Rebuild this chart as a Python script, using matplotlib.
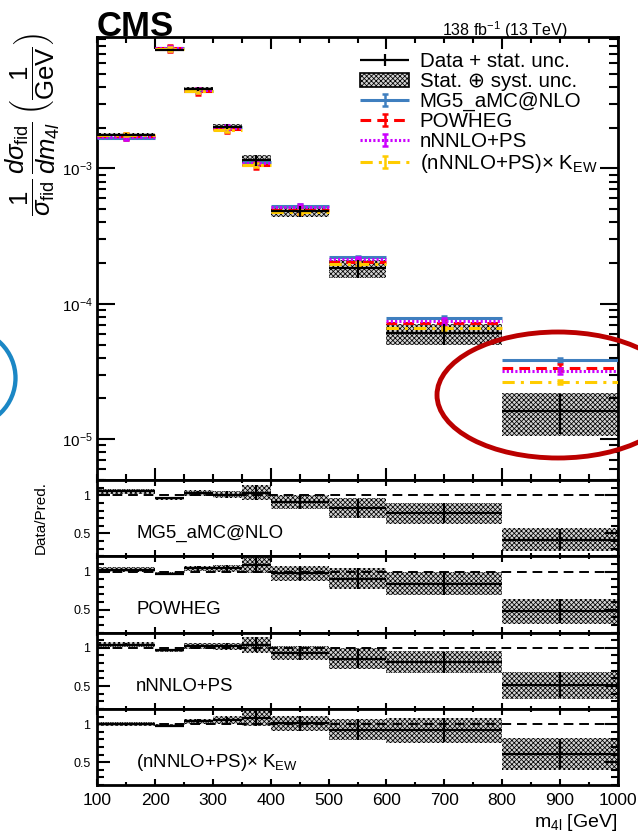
import matplotlib
matplotlib.use("Agg")
import matplotlib.pyplot as plt
import numpy as np
from matplotlib.legend_handler import HandlerErrorbar
from matplotlib.patches import Ellipse, Patch
from matplotlib.ticker import (FixedFormatter, FixedLocator, LogLocator,
                               MultipleLocator, NullFormatter)

# m4l bins and unfolded normalised cross section (1/GeV)
bin_edges = [100, 200, 250, 300, 350, 400, 500, 600, 800, 1000]
data = [1.78e-3, 7.46e-3, 3.85e-3, 2.03e-3, 1.15e-3, 4.84e-4, 1.83e-4, 6.05e-5, 1.62e-5]
stat_rel = [0.02, 0.015, 0.03, 0.04, 0.095, 0.095, 0.15, 0.175, 0.33]
total_rel = [0.03, 0.02, 0.037, 0.048, 0.10, 0.10, 0.155, 0.18, 0.345]

# predictions
mg5 = [1.69e-3, 7.77e-3, 3.74e-3, 2.01e-3, 1.11e-3, 5.32e-4, 2.20e-4, 7.91e-5, 3.86e-5]
powheg = [1.735e-3, 7.69e-3, 3.70e-3, 1.95e-3, 1.055e-3, 4.94e-4, 2.02e-4, 7.20e-5, 3.38e-5]
nnlops = [1.71e-3, 7.69e-3, 3.77e-3, 1.99e-3, 1.105e-3, 5.20e-4, 2.13e-4, 7.47e-5, 3.18e-5]
nnlops_kew = [1.78e-3, 7.61e-3, 3.72e-3, 1.93e-3, 1.065e-3, 4.79e-4, 1.97e-4, 6.58e-5, 2.66e-5]
mg5_unc = [0.03] * 9
powheg_unc = [0.06] * 9
nnlops_unc = [0.05] * 9
nnlops_kew_unc = [0.03] * 9

labels = ["MG5_aMC@NLO", "POWHEG", "nNNLO+PS", r"(nNNLO+PS)× K$_{\mathrm{EW}}$"]
colors = ["#3f7fbf", "#ff0000", "#cc00ff", "#ffcc00"]
styles = ["-", (0, (3.5, 2)), (0, (0.7, 0.7)), (0, (4, 2, 1, 2))]

plt.rcParams["font.family"] = ["Liberation Sans", "DejaVu Sans"]
plt.rcParams["mathtext.fontset"] = "custom"
plt.rcParams["mathtext.rm"] = "Liberation Sans"
plt.rcParams["mathtext.it"] = "Liberation Sans:italic"
plt.rcParams["mathtext.bf"] = "Liberation Sans:bold"
plt.rcParams["hatch.linewidth"] = 0.55

W, H = 638, 833
fig = plt.figure(figsize=(W / 100, H / 100), dpi=100)


def px_axes(x0, y0, x1, y1):
    return fig.add_axes([x0 / W, 1 - y1 / H, (x1 - x0) / W, (y1 - y0) / H])


edges = np.array(bin_edges, float)
lo, hi = edges[:-1], edges[1:]
centers = 0.5 * (lo + hi)
widths = hi - lo
data = np.array(data)
stat_rel = np.array(stat_rel)
total_rel = np.array(total_rel)
preds = [np.array(p) for p in (mg5, powheg, nnlops, nnlops_kew)]
uncs = [np.array(u) for u in (mg5_unc, powheg_unc, nnlops_unc, nnlops_kew_unc)]

HATCH = "xxxxxxx"
box_kw = dict(facecolor="#d4d4d4", edgecolor="black", linewidth=0, hatch=HATCH, zorder=1)

# ---- main panel
ax = px_axes(97.3, 37.3, 617.7, 480)
tot = data * total_rel
ax.bar(centers, 2 * tot, bottom=data - tot, width=widths, **box_kw)
handles = []
hmap = {}
for vals, unc, col, ls in zip(preds, uncs, colors, styles):
    hl = ax.hlines(vals, lo, hi, colors=col, linestyles=ls, linewidth=2.2, zorder=3)
    eb = ax.errorbar(centers, vals, yerr=vals * unc, fmt="none", ecolor=col,
                     elinewidth=1.8, capsize=2, capthick=1.8, zorder=3)
    handles.append((hl, eb))
    hmap[eb] = HandlerErrorbar(xerr_size=0.0, yerr_size=0.28)
deb = ax.errorbar(centers, data, xerr=widths / 2, yerr=data * stat_rel, fmt="none",
                  ecolor="black", elinewidth=1.6, zorder=4)
hmap[deb] = HandlerErrorbar(xerr_size=1.2, yerr_size=0.3)

ax.set_yscale("log")
ax.set_xlim(100, 1000)
ax.set_ylim(5e-6, 9.3e-3)
ax.yaxis.set_major_locator(LogLocator(base=10, numticks=10))
ax.yaxis.set_minor_locator(LogLocator(base=10, subs=np.arange(2, 10), numticks=20))
ax.yaxis.set_minor_formatter(NullFormatter())
ax.xaxis.set_major_locator(MultipleLocator(200))
ax.xaxis.set_minor_locator(MultipleLocator(50))
ax.tick_params(axis="both", which="both", direction="in", top=True, right=True,
               labelbottom=False, width=1.5, labelsize=11, pad=3.5)
ax.tick_params(axis="y", which="major", length=13)
ax.tick_params(axis="y", which="minor", length=6.5)
ax.tick_params(axis="x", which="major", length=8.6)
ax.tick_params(axis="x", which="minor", length=4.3)
for s in ax.spines.values():
    s.set_linewidth(2)

leg_handles = [deb, Patch(facecolor="#d4d4d4", edgecolor="black", hatch=HATCH, linewidth=1.2)] + handles
leg_labels = ["Data + stat. unc.", "Stat. ⊕ syst. unc."] + labels
ax.legend(leg_handles, leg_labels, loc="upper left", handler_map=hmap,
          bbox_to_anchor=((360 - 97.3) / 520.4, (480 - 52) / 442.7),
          fontsize=14.8, handlelength=2.4, handletextpad=0.5, labelspacing=0.05,
          frameon=False, borderpad=0, borderaxespad=0)

# ---- ratio panels
bounds = [480, 556.3, 632.6, 708.9, 785]
for i, (vals, lab) in enumerate(zip(preds, labels)):
    rax = px_axes(97.3, bounds[i], 617.7, bounds[i + 1])
    r = data / vals
    rtot = r * total_rel
    rax.bar(centers, 2 * rtot, bottom=r - rtot, width=widths, **box_kw)
    rax.errorbar(centers, r, xerr=widths / 2, yerr=r * stat_rel, fmt="none",
                 ecolor="black", elinewidth=1.6, zorder=4)
    rax.axhline(1, color="black", linestyle=(0, (5, 3)), linewidth=1.4, zorder=2)
    rax.set_xlim(100, 1000)
    rax.set_ylim(0.2, 1.2)
    rax.yaxis.set_major_locator(FixedLocator([0.5, 1]))
    rax.yaxis.set_major_formatter(FixedFormatter(["0.5", "1"]))
    rax.yaxis.set_minor_locator(MultipleLocator(0.1))
    rax.text(167, 0.5, lab, fontsize=13.4, ha="left", va="center")
    last = i == len(preds) - 1
    rax.xaxis.set_major_locator(MultipleLocator(100 if last else 200))
    rax.xaxis.set_minor_locator(MultipleLocator(50))
    rax.tick_params(axis="both", which="both", direction="in", top=True, right=True,
                    width=1.5, labelbottom=last)
    rax.tick_params(axis="y", which="major", length=9.5, labelsize=9, pad=5)
    rax.tick_params(axis="y", which="minor", length=5)
    rax.tick_params(axis="x", which="major", length=4, labelsize=12.5, pad=6)
    rax.tick_params(axis="x", which="minor", length=2)
    for s in rax.spines.values():
        s.set_linewidth(2)

# ---- texts
fig.text(97 / W, 1 - 36 / H, "CMS", fontsize=25, fontweight="bold", ha="left", va="baseline")
fig.text(568 / W, 1 - 36 / H, r"138 fb$^{-1}$ (13 TeV)", fontsize=11.5, ha="right", va="baseline")
fig.text(33 / W, 1 - 33 / H,
         r"$\dfrac{1}{\sigma_{\mathrm{fid}}}\,\dfrac{d\sigma_{\mathrm{fid}}}{dm_{4l}}\;\left(\dfrac{1}{\mathrm{GeV}}\right)$",
         fontsize=18.5, rotation=90, ha="center", va="top")
fig.text(41 / W, 1 - 518 / H, "Data/Pred.", fontsize=11, rotation=90, ha="center", va="center")
fig.text(617 / W, 1 - 827 / H, r"m$_{\mathrm{4l}}$ [GeV]", fontsize=14, ha="right", va="baseline")

# ---- highlight marks drawn on the figure
fig.add_artist(Ellipse((558 / W, 1 - 395 / H), 242 / W, 126 / H, transform=fig.transFigure,
                       fill=False, edgecolor="#bb0000", linewidth=3.5, zorder=10))
fig.add_artist(Ellipse((-33 / W, 1 - 378 / H), 97 / W, 97 / H, transform=fig.transFigure,
                       fill=False, edgecolor="#1b87c5", linewidth=3.1, zorder=10))

fig.savefig("out.png", dpi=100)
